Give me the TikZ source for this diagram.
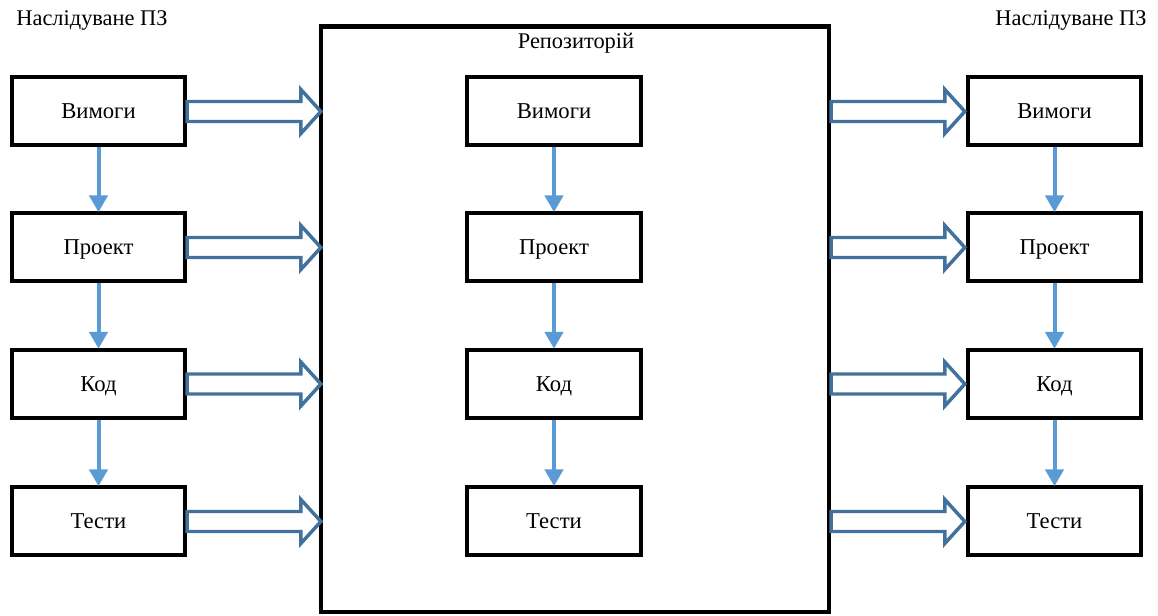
\documentclass[tikz,border=0pt]{standalone}
\usepackage{fontspec}
\setmainfont{Liberation Serif}
\usetikzlibrary{calc,arrows.meta}

\definecolor{flowblue}{HTML}{5B9BD5}
\definecolor{pipeblue}{HTML}{41719C}

\tikzset{
  stagebox/.style={draw=black, line width=3pt, fill=white,
    minimum width=130pt, minimum height=51pt, inner sep=0pt,
    font=\fontsize{17}{20}\selectfont, text height=11.2pt, text depth=0pt},
  repobox/.style={draw=black, line width=3.2pt, fill=white,
    minimum width=381pt, minimum height=439pt, inner sep=0pt},
  caption/.style={font=\fontsize{16.8}{20}\selectfont, inner sep=0pt, anchor=base},
  flow/.style={draw=flowblue, line width=3pt,
    -{Triangle[length=12.5pt,width=13.5pt]}, shorten >=-0.5pt},
  pipe/.style={draw=pipeblue, line width=2.6pt, fill=white, line join=miter},
}

% hollow block arrow from the first point to the x of the second point
\newcommand\pipearrow[2]{%
  \path[pipe] let \p1=(#1), \p2=(#2) in
    (\x1,\y1+7.5pt) -- (\x2-15pt,\y1+7.5pt) -- (\x2-15pt,\y1+16.5pt) --
    (\x2,\y1) --
    (\x2-15pt,\y1-16.5pt) -- (\x2-15pt,\y1-7.5pt) -- (\x1,\y1-7.5pt) -- cycle;}

\begin{document}
\begin{tikzpicture}[x=0.75pt,y=-0.75pt]
\useasboundingbox (0,0) rectangle (1158,616);

% central repository
\node[repobox] (repo) at (575,319.25) {};
\node[caption] (repolabel) at (576,49) {Репозиторій};

% column titles
\node[caption] (ltitle) at (92,26) {Наслідуване ПЗ};
\node[caption] (rtitle) at (1071,26) {Наслідуване ПЗ};

% three columns of stages
\foreach \col/\x in {l/98.5, m/554, r/1054.5}{
  \node[stagebox] (\col1) at (\x,111.5) {Вимоги};
  \node[stagebox] (\col2) at (\x,247.5) {Проект};
  \node[stagebox] (\col3) at (\x,384) {Код};
  \node[stagebox] (\col4) at (\x,521.5) {Тести};
  \draw[flow] (\col1) -- (\col2);
  \draw[flow] (\col2) -- (\col3);
  \draw[flow] (\col3) -- (\col4);
}

% transfer into and out of the repository
\foreach \i in {1,2,3,4}{
  \pipearrow{l\i.east}{$(l\i.east -| repo.west)+(2,0)$}
  \pipearrow{l\i.east -| repo.east}{$(r\i.west)+(-1,0)$}
}
\end{tikzpicture}
\end{document}
